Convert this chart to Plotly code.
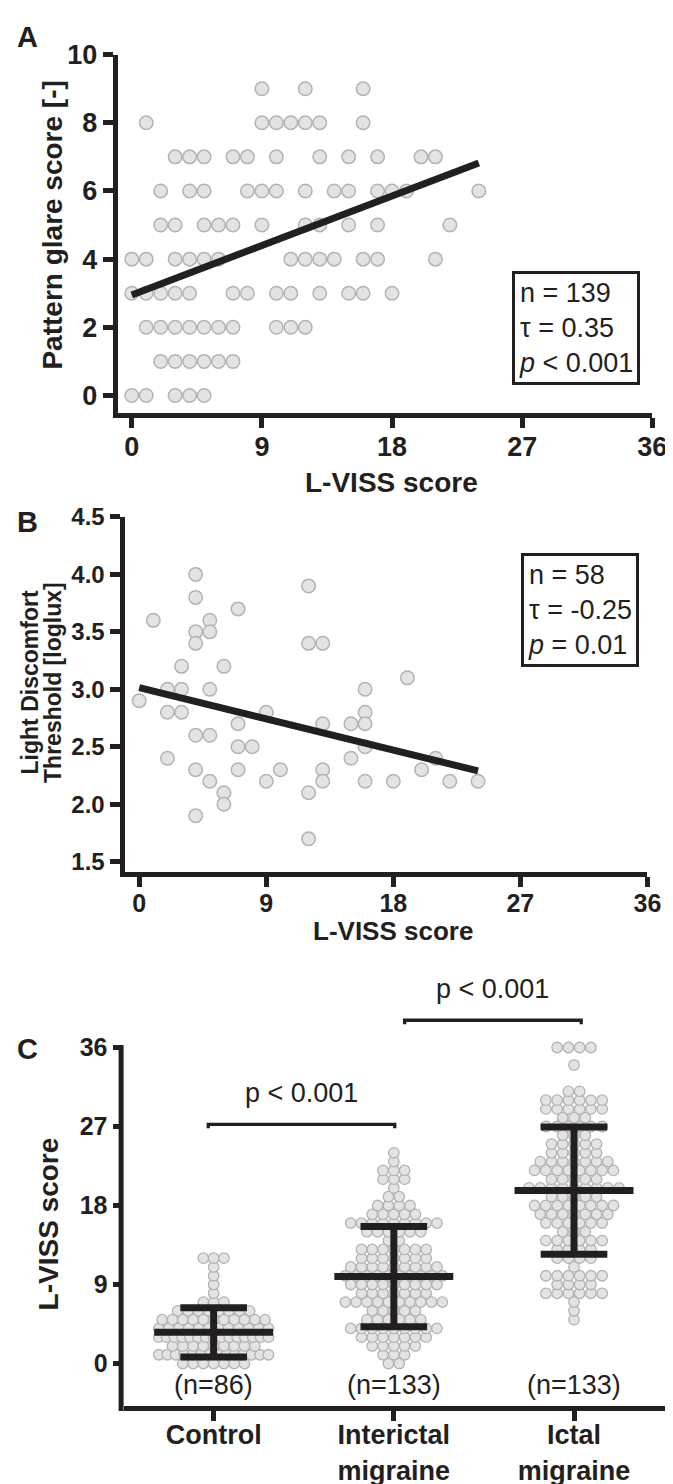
import numpy as np
import plotly.graph_objects as go

W, H = 673, 1484
FONT = "Liberation Sans, Arial, Helvetica, sans-serif"
INK = "#231f20"
FILL = "#e3e3e3"
EDGE = "#b3b3b3"

# ---------------- Panel A : pattern glare vs L-VISS ----------------
a_lviss = [9, 12, 16,
           1, 9, 10, 11, 12, 13, 16,
           3, 4, 5, 7, 8, 10, 13, 15, 17, 20, 21,
           2, 4, 5, 8, 9, 10, 12, 14, 15, 17, 18, 19, 24,
           2, 3, 5, 6, 7, 9, 12, 13, 15, 17, 22,
           0, 1, 3, 4, 5, 6, 11, 12, 13, 14, 16, 17, 21,
           0, 1, 2, 3, 4, 7, 8, 10, 11, 13, 15, 16, 18,
           1, 2, 3, 4, 5, 6, 7, 10, 11, 12,
           2, 3, 4, 5, 6, 7,
           0, 1, 3, 4, 5]
a_glare = [9] * 3 + [8] * 7 + [7] * 11 + [6] * 13 + [5] * 11 + [4] * 13 + [3] * 13 + [2] * 10 + [1] * 6 + [0] * 5
a_fit_x = [0, 24]
a_fit_y = [2.95, 6.82]
a_stats = ["n = 139", "τ = 0.35", "<i>p</i> < 0.001"]
a_xticks = [0, 9, 18, 27, 36]
a_yticks = [0, 2, 4, 6, 8, 10]

# ---------------- Panel B : light discomfort threshold vs L-VISS ----------------
b_lviss = [1, 4, 4, 5, 5, 7, 3, 6, 12, 13, 19, 0, 2, 3, 5, 16, 2, 3, 9, 16,
           7, 13, 15, 16, 4, 5, 7, 8, 16, 2, 15, 21, 4, 7, 10, 13, 20, 5, 9, 13,
           16, 18, 22, 24, 6, 12, 6, 4, 12, 4, 4, 12]
b_ldt = [3.6, 3.5, 3.4, 3.6, 3.5, 3.7, 3.2, 3.2, 3.4, 3.4, 3.1, 2.9, 3.0, 3.0, 3.0, 3.0, 2.8, 2.8, 2.8, 2.8,
         2.7, 2.7, 2.7, 2.7, 2.6, 2.6, 2.5, 2.5, 2.5, 2.4, 2.4, 2.4, 2.3, 2.3, 2.3, 2.3, 2.3, 2.2, 2.2, 2.2,
         2.2, 2.2, 2.2, 2.2, 2.1, 2.1, 2.0, 1.9, 1.7, 4.0, 3.8, 3.9]
b_fit_x = [0, 24]
b_fit_y = [3.015, 2.29]
b_stats = ["n = 58", "τ = -0.25", "<i>p</i> = 0.01"]
b_yticks = [1.5, 2.0, 2.5, 3.0, 3.5, 4.0, 4.5]

# ---------------- Panel C : L-VISS by group ----------------
c_groups = ["Control", "Interictal<br>migraine", "Ictal<br>migraine"]
c_n_labels = ["(n=86)", "(n=133)", "(n=133)"]
# number of subjects at each L-VISS score 0,1,2,...
ctrl_counts = [7, 14, 9, 15, 12, 11, 8, 3, 1, 1, 1, 1, 3]
inter_counts = [2, 3, 5, 7, 9, 6, 5, 10, 7, 9, 10, 9, 7, 7, 2, 6, 9, 5, 4, 2, 1, 3, 3, 1, 1]
ictal_counts = [0, 0, 0, 0, 0, 1, 1, 1, 6, 4, 6, 1, 4, 4, 6, 3, 6, 7, 8, 5, 9, 5, 8, 7, 5, 5, 3, 6, 3,
                6, 6, 2, 0, 0, 1, 0, 4]
c_means = [3.55, 9.9, 19.7]
c_sds = [2.8, 5.7, 7.25]
c_p_text = ["p < 0.001", "p < 0.001"]
c_yticks = [0, 9, 18, 27, 36]

# ---------------- layout geometry (pixels) ----------------
def px_dom_x(a, b):
    return [a / W, b / W]

def px_dom_y(top, bottom):
    return [1 - bottom / H, 1 - top / H]

A_dx, A_dy = px_dom_x(112, 658), px_dom_y(32, 395)
B_dx, B_dy = px_dom_x(119, 653), px_dom_y(500, 859)
C_dx, C_dy = px_dom_x(118, 673), px_dom_y(960, 1400)
A_rx, A_ry = [-0.975, 36], [-0.52, 10]
B_rx, B_ry = [-1.04, 36], [1.414, 4.5]
C_rx, C_ry = [-0.5, 2.516], [-4.84, 44.67]

def paper_y(v, dom, rng):
    return dom[0] + (v - rng[0]) / (rng[1] - rng[0]) * (dom[1] - dom[0])

fig = go.Figure()

marker_big = dict(size=13.5, color=FILL, line=dict(color=EDGE, width=1.5))
marker_small = dict(size=10.5, color=FILL, line=dict(color=EDGE, width=1.3))

# Panel A
fig.add_trace(go.Scatter(x=a_lviss, y=a_glare, mode="markers", marker=marker_big,
                         xaxis="x", yaxis="y", showlegend=False, cliponaxis=False))
fig.add_trace(go.Scatter(x=a_fit_x, y=a_fit_y, mode="lines", line=dict(color=INK, width=7),
                         xaxis="x", yaxis="y", showlegend=False))
# Panel B
fig.add_trace(go.Scatter(x=b_lviss, y=b_ldt, mode="markers", marker=marker_big,
                         xaxis="x2", yaxis="y2", showlegend=False, cliponaxis=False))
fig.add_trace(go.Scatter(x=b_fit_x, y=b_fit_y, mode="lines", line=dict(color=INK, width=7),
                         xaxis="x2", yaxis="y2", showlegend=False))

# Panel C scatter-dot layout: each score row spread evenly around the group centre
C_px_x = (C_dx[1] - C_dx[0]) * W / (C_rx[1] - C_rx[0])

def row_layout(counts, step, max_w):
    xs, ys = [], []
    for score, k in enumerate(counts):
        if k == 0:
            continue
        s = step if k == 1 else min(step, max_w / (k - 1))
        for i in range(k):
            xs.append((i - (k - 1) / 2) * s / C_px_x)
            ys.append(score)
    return xs, ys

for gi, (counts, step, mw) in enumerate([(ctrl_counts, 10.5, 112), (inter_counts, 11, 108),
                                         (ictal_counts, 11.5, 116)]):
    offs, vals = row_layout(counts, step, mw)
    fig.add_trace(go.Scatter(x=[gi + o for o in offs], y=vals, mode="markers", marker=marker_small,
                             xaxis="x3", yaxis="y3", showlegend=False, cliponaxis=False))

# mean +/- SD
ex, ey = [], []
for gi, (m, s) in enumerate(zip(c_means, c_sds)):
    ex += [gi - 0.33, gi + 0.33, None, gi, gi, None, gi - 0.185, gi + 0.185, None, gi - 0.185, gi + 0.185, None]
    ey += [m, m, None, m - s, m + s, None, m + s, m + s, None, m - s, m - s, None]
fig.add_trace(go.Scatter(x=ex, y=ey, mode="lines", line=dict(color=INK, width=7),
                         xaxis="x3", yaxis="y3", showlegend=False))

# significance brackets
brackets = [(-0.03, 1.005, 27.25), (1.06, 2.04, 39.1)]
bx, by = [], []
for x0, x1, h in brackets:
    bx += [x0, x0, x1, x1, None]
    by += [h - 0.45, h, h, h - 0.45, None]
fig.add_trace(go.Scatter(x=bx, y=by, mode="lines", line=dict(color=INK, width=3.3),
                         xaxis="x3", yaxis="y3", showlegend=False))

annotations = []
for (x0, x1, h), t in zip(brackets, c_p_text):
    annotations.append(dict(x=(x0 + x1) / 2, y=h + 3.6, xref="x3", yref="y3", text=t, showarrow=False,
                            font=dict(family=FONT, size=27, color=INK), xanchor="center", yanchor="middle"))
for gi, t in enumerate(c_n_labels):
    annotations.append(dict(x=gi, y=-2.5, xref="x3", yref="y3", text=t, showarrow=False,
                            font=dict(family=FONT, size=27, color=INK), xanchor="center", yanchor="middle"))

def pap(xp, yp):
    return xp / W, 1 - yp / H

def label(text, xp, yp, size, bold=True, angle=0):
    x, y = pap(xp, yp)
    return dict(x=x, y=y, xref="paper", yref="paper", text=text, showarrow=False, textangle=angle,
                font=dict(family=FONT, size=size, color=INK, weight="bold" if bold else "normal"),
                xanchor="center", yanchor="middle")

annotations += [
    label("A", 20, 14, 29), label("B", 20, 505, 29), label("C", 20, 1039, 29),
    label("L-VISS score", 392, 465, 28), label("Pattern glare score [-]", 45, 205, 28, angle=-90),
    label("L-VISS score", 393, 919, 26),
    label("Light Discomfort", 22, 668, 23, angle=-90), label("Threshold [loglux]", 46, 668, 23, angle=-90),
    label("L-VISS score", 41, 1216, 28, angle=-90),
]

def stats_box(lines, left, top):
    x, y = pap(left, top)
    return dict(x=x, y=y, xref="paper", yref="paper", text="<br>".join(lines), showarrow=False,
                align="left", xanchor="left", yanchor="top", bordercolor=INK, borderwidth=3, borderpad=4,
                bgcolor="white", font=dict(family=FONT, size=27, color=INK))

annotations += [stats_box(a_stats, 515, 251), stats_box(b_stats, 524, 537)]

axis_common = dict(showline=True, linewidth=5, linecolor=INK, ticks="outside", ticklen=10, tickwidth=5,
                   tickcolor=INK, showgrid=False, zeroline=False, fixedrange=True)

def tf(size):
    return dict(family=FONT, size=size, color=INK, weight="bold")

# panel C y axis line drawn as a shape (stops at 36)
c_top = paper_y(36, C_dy, C_ry)
shapes = [dict(type="line", xref="paper", yref="paper", x0=C_dx[0] - 2.5 / W, x1=C_dx[0] - 2.5 / W,
               y0=C_dy[0] - 5 / H, y1=c_top + 2.5 / H, line=dict(color=INK, width=5))]

fig.update_layout(
    width=W, height=H, margin=dict(l=0, r=0, t=0, b=0), paper_bgcolor="white", plot_bgcolor="white",
    showlegend=False, annotations=annotations, shapes=shapes,
    xaxis=dict(domain=A_dx, range=A_rx, anchor="y", tickvals=a_xticks, tickfont=tf(27),
               ticklabelstandoff=-5, **axis_common),
    yaxis=dict(domain=A_dy, range=A_ry, anchor="x", tickvals=a_yticks, tickfont=tf(27), **axis_common),
    xaxis2=dict(domain=B_dx, range=B_rx, anchor="y2", tickvals=a_xticks, tickfont=tf(25),
                ticklabelstandoff=-5, **axis_common),
    yaxis2=dict(domain=B_dy, range=B_ry, anchor="x2", tickvals=b_yticks, ticktext=[f"{v:.1f}" for v in b_yticks],
                tickfont=tf(24), **axis_common),
    xaxis3=dict(domain=C_dx, range=C_rx, anchor="y3", tickvals=[0, 1, 2], ticktext=c_groups,
                tickfont=tf(27), ticklabelstandoff=-9, **axis_common),
    yaxis3=dict(domain=C_dy, range=C_ry, anchor="x3", tickvals=c_yticks, tickfont=tf(25),
                **{**axis_common, "showline": False}),
)

fig.write_html("out.html")
